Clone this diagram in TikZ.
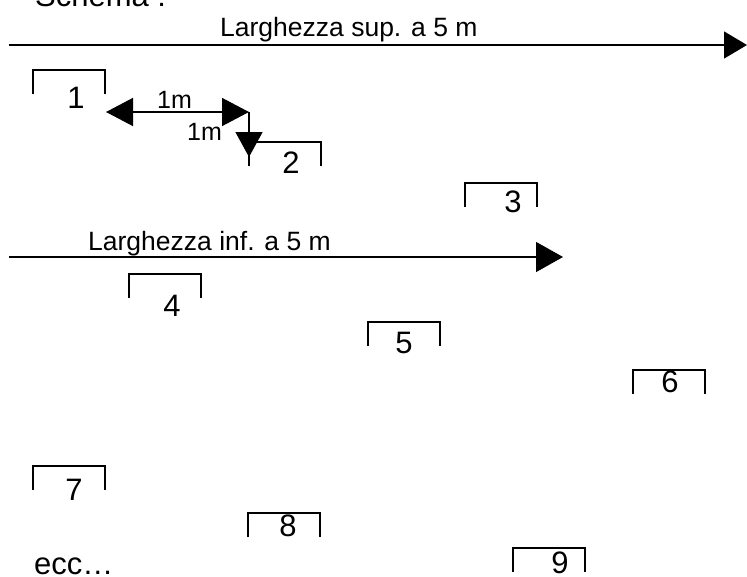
\documentclass[tikz,border=0pt]{standalone}
\usepackage{fontspec}
\setmainfont{Liberation Sans}
\usepackage{graphicx}
\usetikzlibrary{arrows.meta}
\tikzset{
  ln/.style={line width=1.4pt},
  bigtxt/.style={inner sep=0pt, font=\fontsize{31}{36}\selectfont},
  lbl/.style={inner sep=0pt, font=\fontsize{26.5}{30}\selectfont},
  mlbl/.style={inner sep=0pt, font=\fontsize{25}{28}\selectfont},
  headA/.style={-{Triangle[length=23pt,width=27pt]}},
  headB/.style={-{Triangle[length=27pt,width=30pt]}},
  headC/.style={{Triangle[length=27pt,width=28pt]}-{Triangle[length=27pt,width=28pt]}},
  headD/.style={-{Triangle[length=25pt,width=27pt]}},
  brk/.pic={\draw[ln] (0,24) -- (0,0) -- (72,0) -- (72,24);}
}
\begin{document}
\begin{tikzpicture}[x=1pt,y=-1pt]
\useasboundingbox (0,0) rectangle (747,576);
% title
\node[bigtxt, anchor=base west] (schema) at (35,6) {Schema :};
% top dimension arrow
\coordinate (supL) at (9,45);
\coordinate (supR) at (747,45);
\draw[ln, headA] (supL) -- (supR);
\node[lbl, anchor=base west] (tsup) at (220,36) {Larghezza sup. a 5 m};
% lower dimension arrow
\coordinate (infL) at (9,257);
\coordinate (infR) at (563,257);
\draw[ln, headB] (infL) -- (infR);
\node[lbl, anchor=base west] (tinf) at (88,250) {Larghezza inf. a 5 m};
% brackets
\pic at (33,70) {brk};
\pic at (249,142) {brk};
\pic at (465,183) {brk};
\pic at (129,274) {brk};
\pic at (368,322) {brk};
\pic at (633,370) {brk};
\pic at (33,466) {brk};
\pic at (248,513) {brk};
\pic at (513,548) {brk};
% numbers
\node[bigtxt] (n1) at (76,98) {1};
\node[bigtxt] (n2) at (291,163) {2};
\node[bigtxt] (n3) at (513,202) {3};
\node[bigtxt] (n4) at (172,306) {4};
\node[bigtxt] (n5) at (404,343) {5};
\node[bigtxt] (n6) at (670,382) {6};
\node[bigtxt] (n7) at (74,490) {7};
\node[bigtxt] (n8) at (288,526) {8};
\node[bigtxt] (n9) at (560,563) {9};
\node[bigtxt, anchor=base west] (ecc) at (34,574) {ecc…};
% spacing arrows
\coordinate (dL) at (106,112);
\coordinate (dR) at (249,112);
\coordinate (dD) at (249,157);
\draw[ln, headC] (dL) -- (dR);
\draw[ln, headD] (dR) -- (dD);
\node[mlbl, anchor=base west] (m1) at (157,108) {1m};
\node[mlbl, anchor=base west] (m2) at (187,140) {1m};
\end{tikzpicture}
\end{document}
